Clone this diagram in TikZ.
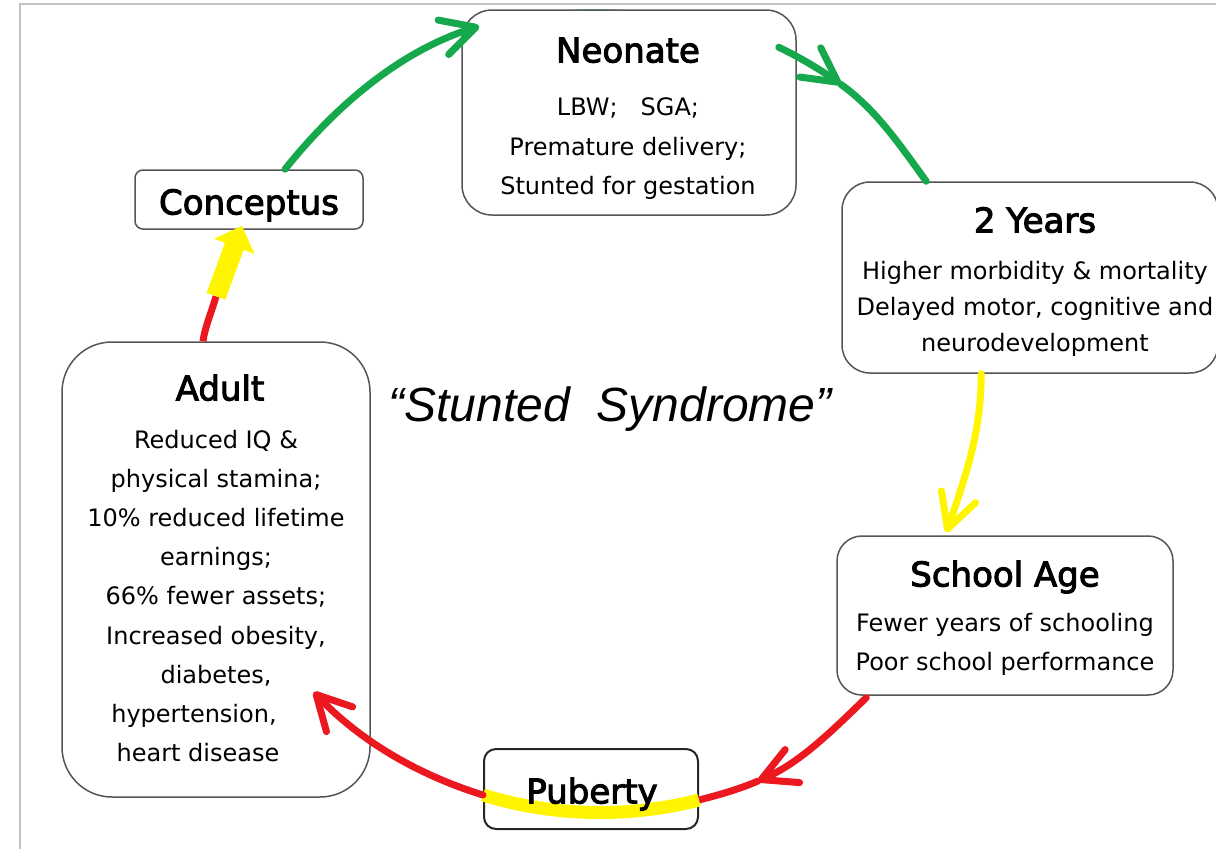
\documentclass[tikz,border=0pt]{standalone}
\usepackage{fontspec}
\setmainfont{DejaVu Sans}
\newfontfamily\titlefont[FakeBold=3]{DejaVu Sans}
\newfontfamily\sloganfont{Liberation Sans}
\usetikzlibrary{arrows.meta,calc,backgrounds}
\definecolor{cgreen}{RGB}{22,168,76}
\definecolor{cred}{RGB}{236,24,32}
\definecolor{cyellow}{RGB}{255,245,0}
\definecolor{cborder}{RGB}{85,85,85}
\definecolor{cframe}{RGB}{195,195,195}
\begin{document}
\begin{tikzpicture}[x=1pt,y=-1pt,
  cbox/.style={draw=cborder, line width=1.5pt, fill=white, inner sep=0pt},
  ttl/.style={inner sep=0pt, font=\titlefont\fontsize{34}{40}\selectfont, text height=24.8pt, text depth=0pt},
  bodytxt/.style={inner sep=0pt, align=center},
  conn/.style={line width=7pt, line cap=round},
  cbarb/.style={-{Straight Barb[length=34pt,width=36pt,round]}},
]
\useasboundingbox (0,0) rectangle (1216,849);
\draw[cframe, line width=1.5pt] (20,849) -- (20,4) -- (1216,4);

% boxes
\node[cbox, rounded corners=30pt, minimum width=334pt, minimum height=205pt] (neo) at (629,112.5) {};
\node[cbox, rounded corners=8pt, minimum width=228pt, minimum height=59pt] (conc) at (249,199.5) {};
\node[cbox, rounded corners=28pt, minimum width=376pt, minimum height=191pt] (two) at (1030,277.5) {};
\node[cbox, rounded corners=25pt, minimum width=336pt, minimum height=159pt] (school) at (1005,615.5) {};
\node[cbox, rounded corners=50pt, minimum width=308pt, minimum height=455pt] (adult) at (216,569.5) {};
\node[cbox, draw=black!85, line width=2pt, rounded corners=12pt, minimum width=214pt, minimum height=80pt] (pub) at (591,789) {};

% green arc peeking behind the Neonate box
\begin{pgfonlayer}{background}
\draw[line width=6pt, cgreen] ($(neo.north west)+(18,17)$) .. controls +(98,-24) and +(-93,-38) .. ($(neo.north east)+(-18,38)$);
\end{pgfonlayer}

% texts
\node[ttl] (neoT) at (628,50) {Neonate};
\node[bodytxt, font=\fontsize{24}{39.5}\selectfont] (neoB) at (628,149) {LBW;\hspace{23pt}SGA;\\Premature delivery;\\Stunted for gestation};
\node[ttl] (concT) at (249,202) {Conceptus};
\node[ttl] (twoT) at (1035,220) {2 Years};
\node[bodytxt, font=\fontsize{24}{36}\selectfont] (twoB) at (1035,308.4) {Higher morbidity \& mortality\\Delayed motor, cognitive and\\neurodevelopment};
\node[ttl] (schoolT) at (1005,574) {School Age};
\node[bodytxt, font=\fontsize{24}{39}\selectfont] (schoolB) at (1005,644) {Fewer years of schooling\\Poor school performance};
\node[ttl] (adultT) at (220,388) {Adult};
\node[bodytxt, font=\fontsize{24}{39.1}\selectfont] (adultB) at (216,596) {Reduced IQ \&\\physical stamina;\\10\% reduced lifetime\\earnings;\\66\% fewer assets;\\Increased obesity,\\diabetes,\\hypertension,\makebox[44pt]{}\\heart disease\makebox[36pt]{}};
\node[inner sep=0pt, font=\sloganfont\itshape\fontsize{48}{50}\selectfont, text height=34.4pt, text depth=0pt] (slogan) at (610,404) {“Stunted~~Syndrome”};

% connectors
\draw[conn, cgreen, cbarb] ($(conc.north)+(36,0)$) .. controls +(51,-64) and +(-78,24) .. ($(neo.north west)+(18,17)$);

\coordinate (gtip) at ($(neo.north east)+(44,75)$);
\draw[conn, cgreen, cbarb] ($(neo.north east)+(-18,38)$) .. controls +(21.6,10.3) and +(-19.4,-13.9) .. (gtip);
\draw[conn, cgreen] (gtip) .. controls +(35.7,25.6) and +(-25.9,-35.5) .. ($(two.north west)+(85,0)$);

\draw[conn, cyellow, cbarb] ($(two.south west)+(140,0)$) .. controls +(0,60) and +(18,-52) .. ($(school.north west)+(110,-3)$);

\coordinate (rtip) at ($(pub.east)+(59,-8)$);
\draw[conn, cred, cbarb] ($(school.south west)+(30,2)$) .. controls +(-33.5,32.3) and +(42.6,-18.5) .. (rtip);
\draw[conn, cred] (rtip) .. controls +(-18.8,8.2) and +(19.9,-5.1) .. ($(pub.east)+(0,11)$);

\draw[line width=13pt, cyellow] ($(pub.east)+(0,11)$) .. controls +(-70.6,18.2) and +(69.6,21.5) .. ($(pub.west)+(0,6)$);

\draw[conn, cred, cbarb] ($(pub.west)+(0,6)$) .. controls +(-64.4,-19.9) and +(46.4,49.0) .. ($(adult.east)+(-57,122.5)$);

\coordinate (yb) at ($(adult.north)+(0,-45)$);
\draw[conn, cred, line cap=butt] ($(adult.north)+(-13,0)$) .. controls +(2,-15) and +(-3,12) .. (yb);
\draw[cyellow, line width=20pt, -{Triangle[length=22pt,width=42pt]}] (yb) .. controls +(8,-22) and +(-6,16) .. ($(conc.south)+(-7,-4)$);

\node[ttl] (pubT) at ($(pub)+(1,2)$) {Puberty};
\end{tikzpicture}
\end{document}
